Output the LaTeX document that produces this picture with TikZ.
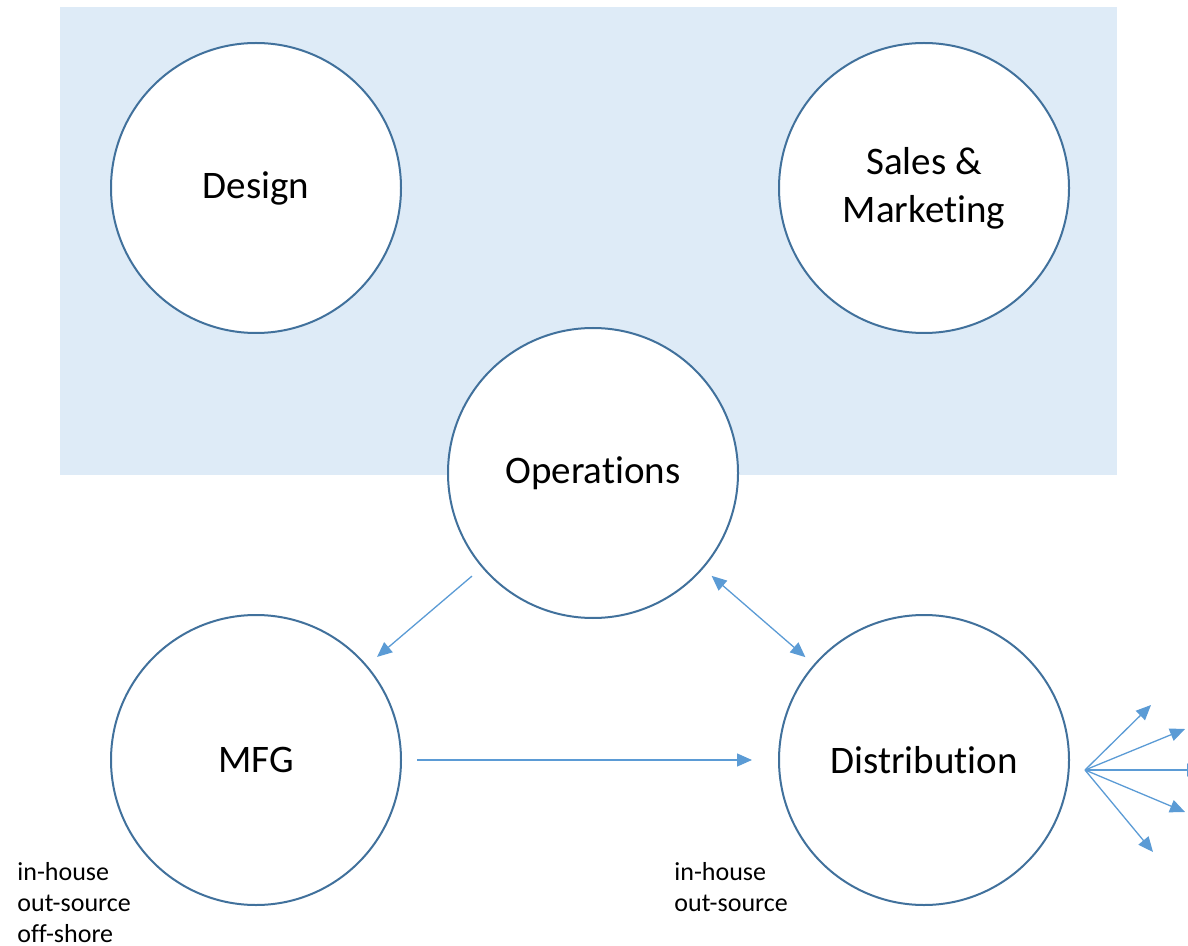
\documentclass[tikz,border=0pt]{standalone}
\usepackage{fontspec}
\setmainfont{Carlito}[RawFeature={-liga;-clig;-calt;-dlig}]
\usetikzlibrary{arrows.meta}
\definecolor{panel}{HTML}{DEEBF7}
\definecolor{ring}{HTML}{41719C}
\definecolor{link}{HTML}{5B9BD5}
\tikzstyle{unit}=[circle,draw=ring,fill=white,line width=1pt,minimum size=145pt,inner sep=0pt,align=center,font=\fontsize{19.5}{24}\selectfont]
\tikzstyle{note}=[anchor=north west,align=left,inner sep=0pt,font=\fontsize{13}{15.5}\selectfont]
\tikzstyle{flow}=[draw=link,line width=0.65pt,-{Triangle[length=7.5pt,width=6.5pt]}]

\begin{document}
\begin{tikzpicture}[x=0.5pt,y=-0.5pt]
    \useasboundingbox (0,0) rectangle (1188,946);
    \fill[panel] (60,7) rectangle (1117,475);
    \node[unit] (design) at (256,188) {Design};
    \node[unit] (sales) at (924,188) {Sales \&\\Marketing};
    \node[unit] (ops) at (593,473) {Operations};
    \node[unit] (mfg) at (256,760) {MFG};
    \node[unit] (dist) at (924,760) {Distribution};
    \node[note] (mfgnote) at (17,862) {in-house\\out-source\\off-shore};
    \node[note] (distnote) at (674,862) {in-house\\out-source};
    % links between the units
    \draw[flow,shorten <=6.5pt,shorten >=6.5pt] (ops) -- (mfg);
    \draw[flow,{Triangle[length=7.5pt,width=6.5pt]}-{Triangle[length=7.5pt,width=6.5pt]},shorten <=5.5pt,shorten >=5.5pt] (ops) -- (dist);
    \draw[flow,shorten <=7.5pt,shorten >=13pt] (mfg) -- (dist);
    % fan out of distribution
    \coordinate (hub) at (1085,770);
    \coordinate (out1) at (1151,705);
    \coordinate (out2) at (1185,729);
    \coordinate (out3) at (1202,770);
    \coordinate (out4) at (1185,812);
    \coordinate (out5) at (1153,852);
    \draw[flow] (hub) -- (out1);
    \draw[flow] (hub) -- (out2);
    \draw[flow] (hub) -- (out3);
    \draw[flow] (hub) -- (out4);
    \draw[flow] (hub) -- (out5);
\end{tikzpicture}
\end{document}
